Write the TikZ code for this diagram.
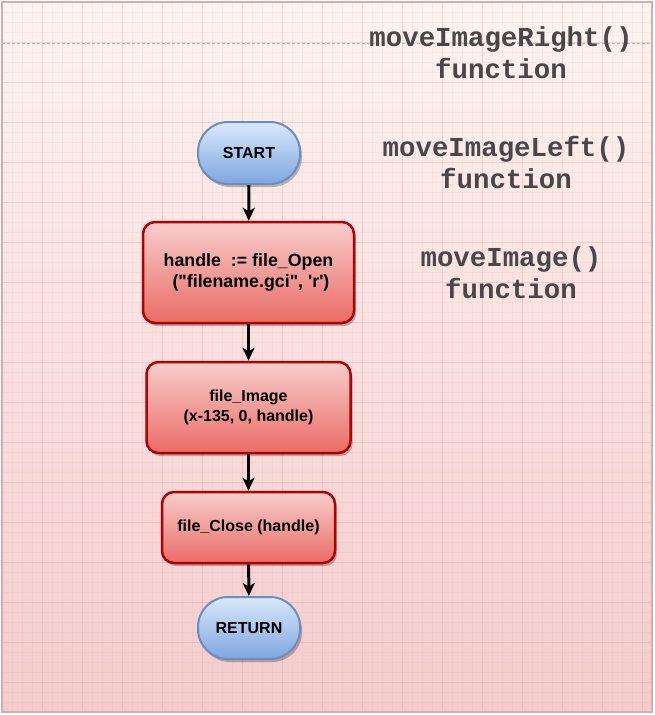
\documentclass[tikz,border=0pt]{standalone}
\usepackage{fontspec}
\setmainfont{Liberation Sans}[Ligatures=TeXOff]
\newfontfamily\monob{Liberation Mono}
\usetikzlibrary{arrows.meta,shadows}
\definecolor{bgtop}{RGB}{254,243,241}
\definecolor{bgbot}{RGB}{244,204,204}
\definecolor{gridc}{RGB}{200,150,150}
\definecolor{framec}{RGB}{212,174,174}
\definecolor{bluetop}{RGB}{218,232,252}
\definecolor{bluebot}{RGB}{126,166,224}
\definecolor{blueedge}{RGB}{108,142,191}
\definecolor{redtop}{RGB}{248,206,204}
\definecolor{redbot}{RGB}{234,107,102}
\definecolor{rededge}{RGB}{178,0,0}
\definecolor{fntxt}{RGB}{72,72,72}
\tikzset{
  termbox/.style={draw=blueedge, line width=2pt, top color=bluetop, bottom color=bluebot,
    rounded corners=30pt, minimum width=102pt, minimum height=62pt, inner sep=0pt,
    font=\fontsize{16}{19.2}\selectfont\bfseries, text=black,
    drop shadow={shadow xshift=2pt, shadow yshift=-3pt, opacity=0.25, fill=black, rounded corners=30pt}},
  procbox/.style={draw=rededge, line width=2.5pt, top color=redtop, bottom color=redbot,
    rounded corners=12pt, inner sep=0pt, align=center,
    font=\fontsize{16}{20}\selectfont\bfseries, text=black,
    drop shadow={shadow xshift=2pt, shadow yshift=-3pt, opacity=0.25, fill=black, rounded corners=12pt}},
  flowarrow/.style={line width=3pt, draw=black, -{Stealth[length=13pt, width=12pt, inset=3.5pt]}},
  fnlabel/.style={font=\fontsize{27.4}{32}\selectfont\monob\bfseries, text=fntxt, align=center, inner sep=0pt}
}
\begin{document}
\begin{tikzpicture}[x=1pt, y=-1pt]
\useasboundingbox (0,0) rectangle (654,715);
\fill[white] (0,0) rectangle (654,715);
% background
\shade[top color=bgtop, bottom color=bgbot] (2,2) rectangle (652,712);
\begin{scope}
\clip (2,2) rectangle (652,712);
\foreach \i in {0,...,65} {
  \draw[gridc, opacity=0.08, line width=0.6pt] ({2+10*\i},2) -- ({2+10*\i},712);
}
\foreach \j in {0,...,71} {
  \draw[gridc, opacity=0.08, line width=0.6pt] (2,{2+10*\j}) -- (652,{2+10*\j});
}
\foreach \i in {0,...,16} {
  \draw[gridc, opacity=0.22, line width=0.8pt] ({2+40*\i},2) -- ({2+40*\i},712);
}
\foreach \j in {0,...,17} {
  \draw[gridc, opacity=0.22, line width=0.8pt] (2,{2+40*\j}) -- (652,{2+40*\j});
}
\end{scope}
\draw[gray!55, dash pattern=on 3pt off 2pt, line width=0.5pt] (2,43) -- (652,43);
\draw[framec, line width=2pt] (2,2) rectangle (652,712);
% right labels
\node[fnlabel] (fright) at (501,53) {moveImageRight()\\function};
\node[fnlabel] (fleft) at (506,163) {moveImageLeft()\\function};
\node[fnlabel] (fimg) at (511,273) {moveImage()\\function};
% flowchart
\node[termbox] (start) at (249,153) {START};
\node[procbox, minimum width=211pt, minimum height=101pt, font=\fontsize{17.8}{21}\selectfont\bfseries] (open) at (248.5,272.5)
  {handle~~:= file\_Open\\~("filename.gci", 'r')};
\node[procbox, minimum width=204pt, minimum height=91pt] (image) at (248.5,407.5)
  {file\_Image\\(x-135, 0, handle)};
\node[procbox, minimum width=173pt, minimum height=71pt] (close) at (248.5,527.5)
  {file\_Close (handle)};
\node[termbox] (ret) at (249,628) {RETURN};
\draw[flowarrow] (start) -- (open);
\draw[flowarrow] (open) -- (image);
\draw[flowarrow] (image) -- (close);
\draw[flowarrow] (close) -- (ret);
\end{tikzpicture}
\end{document}
